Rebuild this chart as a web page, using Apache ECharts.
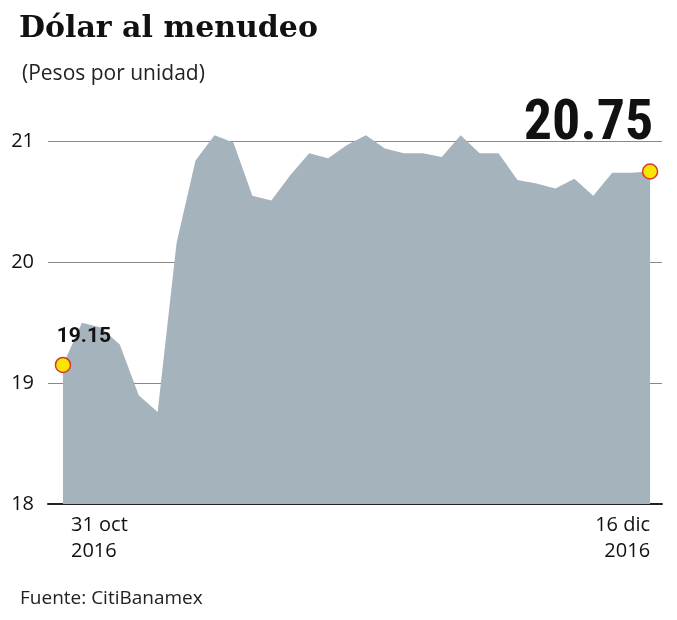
<!DOCTYPE html>
<html><head><meta charset="utf-8">
<script src="https://cdn.jsdelivr.net/npm/echarts@6/dist/echarts.min.js"></script>
<style>body{margin:0;background:#fff}#c{width:677px;height:620px}</style>
</head><body><div id="c"></div>
<script>
const values = [19.15,19.5,19.46,19.32,18.9,18.76,20.16,20.84,21.05,20.99,20.55,20.51,20.72,20.9,20.86,20.97,21.05,20.94,20.9,20.9,20.87,21.05,20.9,20.9,20.68,20.65,20.61,20.69,20.55,20.74,20.74,20.75];
const dateLabels = {0:'31 oct\n2016', 31:'16 dic\n2016'};
const yTicks = [18,19,20,21];
const last = values.length-1;
const data = values.map((v,i)=>{
  const d=[i,v];
  if(i===0) return {value:d,symbol:'circle',symbolSize:15,label:{show:true,position:[2,-30],formatter:'19.15',fontSize:21,fontWeight:'bold',color:'#111',fontFamily:'Roboto'}};
  if(i===last) return {value:d,symbol:'circle',symbolSize:15,label:{show:true,position:[-118,-66],formatter:'20.75',fontSize:56,fontWeight:'bold',color:'#111',fontFamily:'Liberation Sans Narrow, Roboto Condensed, Roboto'}};
  return {value:d,symbol:'none'};
});
const chart = echarts.init(document.getElementById('c'));
chart.setOption({
  animation:false,
  title:[
    {text:'Dólar al menudeo',left:14,top:9,textStyle:{fontFamily:'DejaVu Serif',fontWeight:'bold',fontSize:30,color:'#111'}},
    {text:'(Pesos por unidad)',left:17,top:59,textStyle:{fontFamily:'Open Sans',fontWeight:'normal',fontSize:21,color:'#222'}},
    {text:'Fuente: CitiBanamex',left:15,top:584,textStyle:{fontFamily:'Open Sans',fontWeight:'normal',fontSize:19,color:'#222'}}
  ],
  grid:{left:48,right:15,top:105,bottom:116},
  xAxis:{type:'value',min:-0.79,max:31.63,splitLine:{show:false},axisTick:{show:false},
    axisLine:{show:true,onZero:false,lineStyle:{color:'#222',width:2}},
    axisLabel:{customValues:[0,31],formatter:v=>dateLabels[Math.round(v)]||'',fontSize:20,color:'#111',fontFamily:'Open Sans',lineHeight:26,margin:8,
      alignMinLabel:'left',alignMaxLabel:'right',padding:[0,0,0,8]}},
  yAxis:{type:'value',min:18,max:21.3,interval:1,
    axisLabel:{customValues:yTicks,fontSize:20,color:'#111',fontFamily:'Open Sans',margin:14},
    axisLine:{show:false},axisTick:{show:false},
    splitLine:{showMaxLine:false,lineStyle:{color:'#888',width:1}}},
  series:[{type:'line',data:data,lineStyle:{width:0},areaStyle:{color:'#a5b3bc',opacity:1},
    itemStyle:{color:'#f7e600',borderColor:'#d33',borderWidth:1.5},z:3}]
});
</script></body></html>
